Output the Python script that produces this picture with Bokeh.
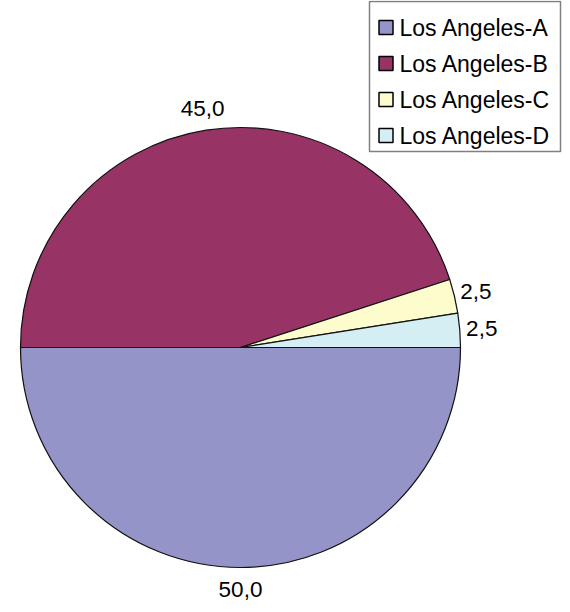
import numpy as np
from bokeh.plotting import figure
from bokeh.models import Range1d, ColumnDataSource
from bokeh.core.properties import value
from bokeh.embed import file_html
from bokeh.resources import INLINE

# ---- data ----
categories = ["Los Angeles-A", "Los Angeles-B", "Los Angeles-C", "Los Angeles-D"]
values = [50.0, 45.0, 2.5, 2.5]
labels = ["50,0", "45,0", "2,5", "2,5"]
colors = ["#9494C8", "#983366", "#FCFCCC", "#D4EEF4"]

# ---- layout (pixel-like data space, y measured up from bottom) ----
W, H = 562, 604
CX, CY = 240, H - 347
R = 220
LABEL_R = 242
FONT = value("Liberation Sans")

p = figure(width=W, height=H, output_backend="svg", toolbar_location=None,
           x_range=Range1d(0, W), y_range=Range1d(0, H),
           min_border=0)
p.axis.visible = False
p.grid.visible = False
p.outline_line_color = None
p.background_fill_color = "white"
p.border_fill_color = "white"

# angles: counterclockwise from 0 rad, order D, C, B, A
vals = np.array(values)
total = vals.sum()
order = list(range(len(vals)))[::-1]
start = np.zeros(len(vals))
end = np.zeros(len(vals))
acc = 0.0
for i in order:
    start[i] = 2 * np.pi * acc / total
    acc += vals[i]
    end[i] = 2 * np.pi * acc / total
mid = (start + end) / 2

src = ColumnDataSource(dict(
    x=[CX] * len(vals), y=[CY] * len(vals),
    start=start, end=end, color=colors, cat=categories,
))
p.wedge(x="x", y="y", radius=R, start_angle="start", end_angle="end",
        fill_color="color", line_color="#111111", line_width=1.2, source=src)

lsrc = ColumnDataSource(dict(
    x=CX + LABEL_R * np.cos(mid), y=CY + LABEL_R * np.sin(mid), text=labels,
))
p.text(x="x", y="y", text="text", source=lsrc, text_font=FONT,
       text_font_size="22.5px", text_align="center", text_baseline="middle",
       text_color="black")

# ---- legend (drawn manually) ----
LX0, LX1 = 369, 560
LTOP, LBOT = H - 1, H - 151
p.quad(left=[LX0], right=[LX1], top=[LTOP], bottom=[LBOT],
       fill_color="white", line_color="#808080", line_width=1.5)
ey = [H - 27 - 36 * k for k in range(len(categories))]
leg = ColumnDataSource(dict(
    sx=[385.5] * len(categories), tx=[399] * len(categories), y=ey,
    color=colors, text=categories,
))
p.rect(x="sx", y="y", width=14, height=14, fill_color="color",
       line_color="black", line_width=1.5, source=leg)
p.text(x="tx", y="y", text="text", source=leg, text_font=FONT,
       text_font_size="23px", text_align="left", text_baseline="middle",
       text_color="black")

open("out.html", "w").write(file_html(p, INLINE))
